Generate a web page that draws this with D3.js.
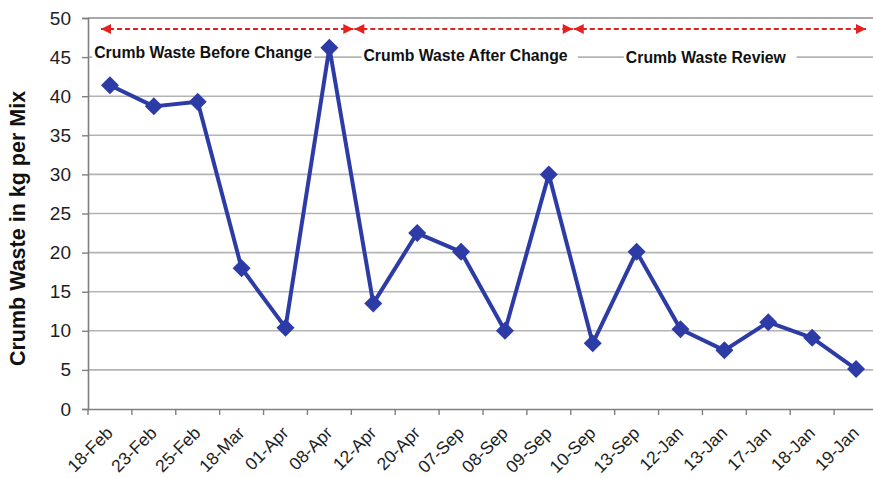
<!DOCTYPE html>
<html>
<head>
<meta charset="utf-8">
<script src="https://cdn.jsdelivr.net/npm/d3@7"></script>
<style>
  html, body { margin: 0; padding: 0; background: #fff; }
  svg { display: block; }
</style>
</head>
<body>
<svg id="chart" width="873" height="478"></svg>
<script>
// ---- data ----
const categories = ["18-Feb","23-Feb","25-Feb","18-Mar","01-Apr","08-Apr","12-Apr","20-Apr","07-Sep","08-Sep","09-Sep","10-Sep","13-Sep","12-Jan","13-Jan","17-Jan","18-Jan","19-Jan"];
const wasteValues = [41.4, 38.7, 39.3, 18.0, 10.4, 46.2, 13.5, 22.5, 20.1, 10.0, 30.0, 8.4, 20.1, 10.2, 7.5, 11.1, 9.1, 5.1];
const yTicks = [0, 5, 10, 15, 20, 25, 30, 35, 40, 45, 50];
const yTitle = "Crumb Waste in kg per Mix";
const sectionLabels = ["Crumb Waste Before Change", "Crumb Waste After Change", "Crumb Waste Review"];
const sectionStart = ["18-Feb", "12-Apr", "10-Sep"];
const sectionEnd = ["08-Apr", "09-Sep", "19-Jan"];

(function () {
// ---- layout ----
const svg = d3.select("#chart");
const mLeft = 88, mRight = 878, mTop = 18, mBottom = 409;

const x = d3.scaleBand().domain(categories).range([mLeft, mRight]).padding(0);
const y = d3.scaleLinear().domain([0, 50]).range([mBottom, mTop]);

const lineColor = "#2d3ba6";
const gridColor = "#b4b4b4";
const axisColor = "#7f7f7f";
const font = "Liberation Sans, Arial, sans-serif";

// gridlines
svg.append("g").selectAll("line").data(yTicks.filter(d => d > 0)).join("line")
  .attr("x1", mLeft).attr("x2", mRight)
  .attr("y1", d => y(d)).attr("y2", d => y(d))
  .attr("stroke", d => d === 50 ? "#8c8c8c" : gridColor)
  .attr("stroke-width", 1.6);

// y axis
const yAxis = svg.append("g").attr("transform", `translate(${mLeft},0)`)
  .call(d3.axisLeft(y).tickValues(yTicks).tickSize(6).tickPadding(11));
yAxis.select(".domain").attr("stroke", axisColor).attr("stroke-width", 1.6);
yAxis.selectAll(".tick line").attr("stroke", axisColor).attr("stroke-width", 1.4);
yAxis.selectAll(".tick text")
  .attr("font-family", font)
  .attr("font-size", 19).attr("fill", "#1e1e1e");

// x axis
const xAxis = svg.append("g").attr("transform", `translate(0,${mBottom})`)
  .call(d3.axisBottom(x).tickSize(0).tickFormat(""));
xAxis.select(".domain").attr("stroke", axisColor).attr("stroke-width", 1.6);
// category boundary ticks
svg.append("g").selectAll("line").data(categories).join("line")
  .attr("x1", d => x(d)).attr("x2", d => x(d))
  .attr("y1", mBottom).attr("y2", mBottom + 6)
  .attr("stroke", axisColor).attr("stroke-width", 1.4);
// rotated labels
svg.append("g").selectAll("text").data(categories).join("text")
  .attr("transform", d => `translate(${x(d) + x.bandwidth() / 2 + 4},${mBottom + 25}) rotate(-45)`)
  .attr("text-anchor", "end")
  .attr("font-family", font)
  .attr("font-size", 17.5).attr("fill", "#1e1e1e")
  .text(d => d);

// y title
svg.append("text")
  .attr("transform", `translate(25,${(mTop + mBottom) / 2 + 15}) rotate(-90)`)
  .attr("text-anchor", "middle")
  .attr("font-family", font)
  .attr("font-weight", "bold")
  .attr("font-size", 21.5).attr("fill", "#111")
  .text(yTitle);

// section annotations
const defs = svg.append("defs");
defs.append("marker").attr("id", "ahEnd").attr("viewBox", "0 0 10 10")
  .attr("refX", 10).attr("refY", 5).attr("markerWidth", 12).attr("markerHeight", 10)
  .attr("markerUnits", "userSpaceOnUse").attr("orient", "auto")
  .append("path").attr("d", "M0,0 L10,5 L0,10 Z").attr("fill", "#e3211f");
defs.append("marker").attr("id", "ahStart").attr("viewBox", "0 0 10 10")
  .attr("refX", 0).attr("refY", 5).attr("markerWidth", 12).attr("markerHeight", 10)
  .attr("markerUnits", "userSpaceOnUse").attr("orient", "auto")
  .append("path").attr("d", "M10,0 L0,5 L10,10 Z").attr("fill", "#e3211f");

const arrowY = 29;
const labelY = [58, 61, 63];
sectionLabels.forEach((lab, i) => {
  let x0 = x(sectionStart[i]) + 3;
  let x1 = x(sectionEnd[i]) + x.bandwidth() + 2;
  if (i === 0) x0 = x(sectionStart[i]) + 13;
  if (i === sectionLabels.length - 1) x1 = x(sectionEnd[i]) + x.bandwidth() - 12;
  svg.append("line")
    .attr("x1", x0).attr("x2", x1).attr("y1", arrowY).attr("y2", arrowY)
    .attr("stroke", "#e3211f").attr("stroke-width", 2)
    .attr("stroke-dasharray", "5,3")
    .attr("marker-start", "url(#ahStart)").attr("marker-end", "url(#ahEnd)");
  const cx = (x0 + x1) / 2 + (i === 0 ? -24 : (i === 1 ? 2 : -14));
  const t = svg.append("text")
    .attr("x", cx).attr("y", labelY[i])
    .attr("text-anchor", "middle")
    .attr("font-family", font)
    .attr("font-weight", "bold").attr("font-size", 15.8).attr("fill", "#111")
    .text(lab);
  const bb = t.node().getBBox();
  svg.insert("rect", () => t.node())
    .attr("x", bb.x - 2).attr("y", bb.y - 3)
    .attr("width", bb.width + 4 + (i === 0 ? 0 : 8)).attr("height", bb.height + 6)
    .attr("fill", "#fff");
});

// line + markers
const cxOf = d => x(d) + x.bandwidth() / 2;
const pts = categories.map((c, i) => [cxOf(c), y(wasteValues[i])]);
svg.append("path")
  .attr("d", d3.line()(pts))
  .attr("fill", "none").attr("stroke", lineColor)
  .attr("stroke-width", 4).attr("stroke-linejoin", "round");
svg.append("g").selectAll("path").data(pts).join("path")
  .attr("transform", d => `translate(${d[0]},${d[1]})`)
  .attr("d", "M0,-9 L9,0 L0,9 L-9,0 Z")
  .attr("fill", lineColor);
})();
</script>
</body>
</html>
